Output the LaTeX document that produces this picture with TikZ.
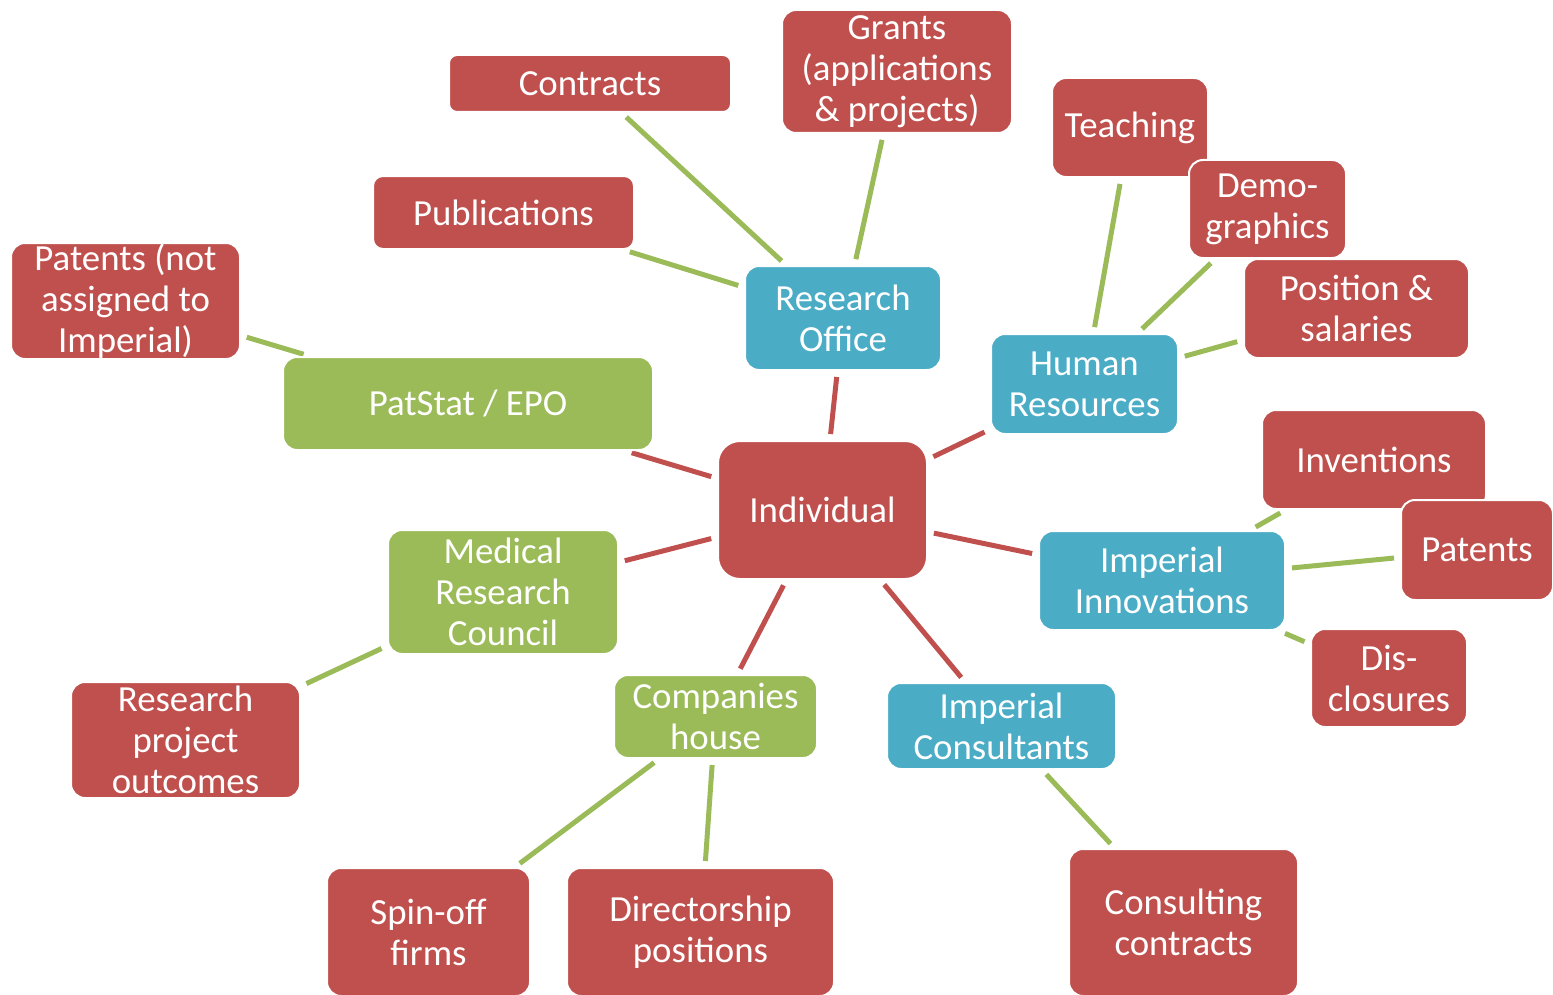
\documentclass[tikz,border=0pt]{standalone}
\usepackage{fontspec}
\setmainfont{Carlito}
\usetikzlibrary{backgrounds}
\definecolor{cred}{HTML}{C0504D}
\definecolor{cblue}{HTML}{4BACC6}
\definecolor{cgreen}{HTML}{9BBB59}
\tikzset{
  box/.style={draw=white, line width=1pt, rounded corners=7pt, text=white, align=center,
    inner sep=0pt, font=\fontsize{18.4}{20.5}\selectfont},
  redbox/.style={box, fill=cred},
  bluebox/.style={box, fill=cblue},
  greenbox/.style={box, fill=cgreen},
  sz/.style 2 args={minimum width=#1*0.5pt, minimum height=#2*0.5pt},
  gline/.style={draw=cgreen, line width=2.5pt, shorten <=3pt, shorten >=3pt},
  rline/.style={draw=cred, line width=2.5pt, shorten <=3pt, shorten >=3pt}
}
\begin{document}
\begin{tikzpicture}[x=0.5pt, y=-0.5pt]
\useasboundingbox (0,0) rectangle (1553,995);
\clip (0,0) rectangle (1553,995);
% central
\node[redbox, sz={209}{138}, rounded corners=11pt] (ind) at (822.5,510) {Individual};
% research office cluster
\node[bluebox, sz={196}{104}] (ro) at (843,318) {Research\\Office};
\node[redbox, sz={282}{57}, rounded corners=4pt] (contracts) at (590,83.5) {Contracts};
\node[redbox, sz={230}{123}] (grants) at (897,71.5) {\rule{0pt}{3pt}Grants\\(applications\\\& projects)};
\node[redbox, sz={261}{73}, rounded corners=5pt] (pubs) at (503.5,212.5) {Publications};
% HR cluster
\node[bluebox, sz={187}{100}] (hr) at (1084.5,384) {Human\\Resources};
\node[redbox, sz={156}{99}] (teach) at (1130,127.5) {Teaching};
\node[redbox, sz={157}{98}] (demo) at (1267.5,209) {Demo-\\graphics};
\node[redbox, sz={225}{99}] (pos) at (1356.5,308.5) {Position \&\\salaries};
% PatStat
\node[greenbox, sz={370}{93}] (patstat) at (468,403.5) {PatStat / EPO};
\node[redbox, sz={229}{116}] (patnot) at (125.5,301) {Patents (not\\assigned to\\Imperial)};
% Imperial Innovations
\node[bluebox, sz={246}{99}] (ii) at (1162,580.5) {Imperial\\Innovations};
\node[redbox, sz={224}{99}] (inv) at (1374,459.5) {Inventions};
\node[redbox, sz={152}{100}] (pat) at (1477,550) {Patents};
\node[redbox, sz={156}{98}] (dis) at (1389,678) {Dis-\\closures};
% MRC
\node[greenbox, sz={230}{124}] (mrc) at (503,592) {Medical\\Research\\Council};
\node[redbox, sz={229}{116}] (rpo) at (185.5,740) {Research\\project\\outcomes};
% Companies house
\node[greenbox, sz={203}{83}] (comp) at (715.5,716.5) {Companies\\house};
\node[redbox, sz={203}{128}] (spin) at (428.5,932) {Spin-off\\firms};
\node[redbox, sz={267}{128}] (dir) at (700.5,932) {Directorship\\positions};
% Consultants
\node[bluebox, sz={229}{86}] (cons) at (1001.5,726) {Imperial\\Consultants};
\node[redbox, sz={229}{147}] (consult) at (1183.5,922.5) {Consulting\\contracts};
\begin{scope}[on background layer]
\draw[rline] (ro) -- (ind);
\draw[rline] (hr) -- (ind);
\draw[rline] (patstat) -- (ind);
\draw[rline] (mrc) -- (ind);
\draw[rline] (ii) -- (ind);
\draw[rline] (comp) -- (ind);
\draw[rline] (cons) -- (ind);
\draw[gline] (contracts) -- (ro);
\draw[gline] (grants) -- (ro);
\draw[gline] (pubs) -- (ro);
\draw[gline] (teach) -- (hr);
\draw[gline] (demo) -- (hr);
\draw[gline] (pos) -- (hr);
\draw[gline] (patnot) -- (patstat);
\draw[gline] (inv) -- (ii);
\draw[gline] (pat) -- (ii);
\draw[gline] (dis) -- (ii);
\draw[gline] (rpo) -- (mrc);
\draw[gline] (spin) -- (comp);
\draw[gline] (dir) -- (comp);
\draw[gline] (consult) -- (cons);
\end{scope}
\end{tikzpicture}
\end{document}
